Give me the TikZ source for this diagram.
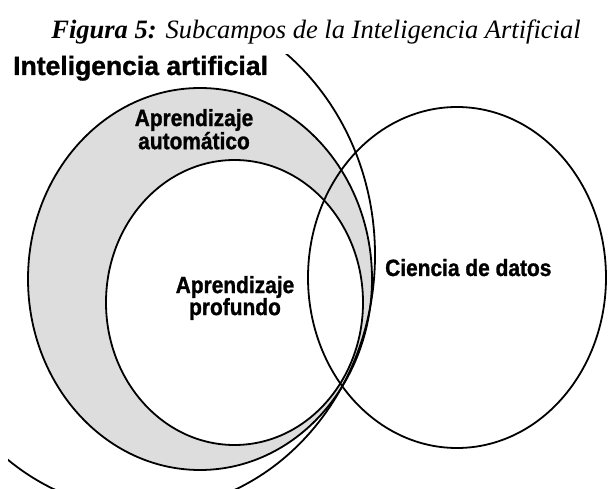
\documentclass[tikz,border=0pt]{standalone}
\usepackage{fontspec}
\setmainfont{Liberation Serif}
\newfontfamily\lsans{Liberation Sans}[FakeBold=1.2]
\newfontfamily\lsansn{Liberation Sans}[FakeStretch=0.89,FakeBold=1.2]
\definecolor{mlgray}{RGB}{221,221,221}
\begin{document}
\begin{tikzpicture}[x=1pt,y=-1pt,
  ring/.style={draw=black, line width=1.8pt},
  lbl/.style={font=\lsansn\bfseries\fontsize{23.5}{22}\selectfont, align=center, inner sep=0pt},
  ttl/.style={font=\fontsize{26.5}{26.5}\selectfont\itshape, inner sep=0pt}]
\useasboundingbox (0,0) rectangle (608,489);
\fill[white] (0,0) rectangle (608,489);
\begin{scope}
\clip (8,55) rectangle (608,489);
% fills
\fill[mlgray] (200,279) ellipse [x radius=172pt, y radius=191pt];
\fill[white] (234.5,302.5) ellipse [x radius=128.5pt, y radius=142.5pt];
% outlines
\draw[ring] (145,255) ellipse [x radius=230pt, y radius=255pt];
\draw[ring] (200,279) ellipse [x radius=172pt, y radius=191pt];
\draw[ring] (234.5,302.5) ellipse [x radius=128.5pt, y radius=142.5pt];
\draw[ring] (457,277.5) ellipse [x radius=149pt, y radius=170.5pt];
\end{scope}
% labels
\node[ttl, anchor=base] (title) at (316,39) {\textbf{Figura 5:} Subcampos de la Inteligencia Artificial};
\node[font=\lsans\bfseries\fontsize{26.5}{26.5}\selectfont, inner sep=0pt, anchor=base west] (ia) at (13,75) {Inteligencia artificial};
\node[lbl] (ml) at (194,129.2) {Aprendizaje\\automático};
\node[lbl] (dl) at (235,298) {Aprendizaje\\profundo};
\node[lbl, anchor=base west] (ds) at (385,276) {Ciencia de datos};
\end{tikzpicture}
\end{document}
